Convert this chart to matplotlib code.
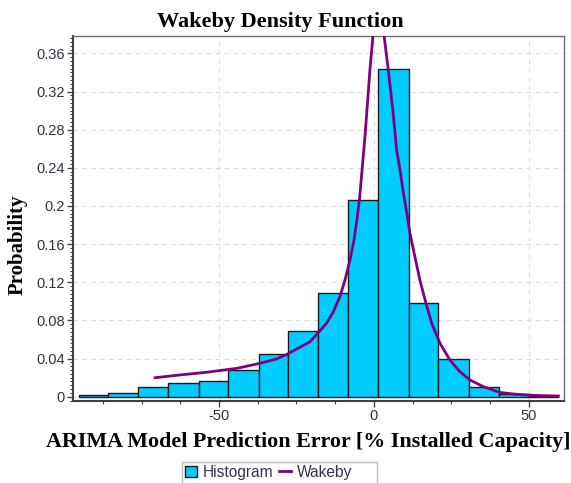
import matplotlib
matplotlib.use("Agg")
import matplotlib.pyplot as plt
from matplotlib.ticker import MultipleLocator, FuncFormatter
from matplotlib.patches import Rectangle
import numpy as np

plt.rcParams["axes.unicode_minus"] = False

# ---- data ----
bin_edges = [-95.2, -85.7, -76.0, -66.4, -56.5, -47.0, -37.0, -27.6, -18.0,
             -8.3, 1.4, 11.3, 20.7, 30.6, 40.3, 50.0, 59.5]
hist_prob = [0.0017, 0.0042, 0.0105, 0.014, 0.0168, 0.028, 0.0447, 0.0689,
             0.109, 0.206, 0.344, 0.098, 0.0395, 0.0105, 0.0028, 0.001]

wak_x = [-70.6, -62.6, -54.0, -44.3, -36.8, -31.5, -28.2, -23.9, -20.6, -18.0,
         -15.3, -13.1, -11.0, -9.35, -7.74, -6.45, -5.37, -4.6, -2.9, -1.3, 0.0,
         1.6, 3.2, 4.6, 6.2, 7.3, 8.4, 9.5, 10.6, 11.6, 13.2, 14.8, 16.5, 18.6,
         21.3, 24.5, 27.7, 31.0, 35.3, 40.6, 45.0, 49.3, 54.0, 59.5]
wak_y = [0.0199, 0.0228, 0.0256, 0.0297, 0.035, 0.0395, 0.0442, 0.0518, 0.0577,
         0.0671, 0.077, 0.0891, 0.1049, 0.1224, 0.1433, 0.1643, 0.1887, 0.2097,
         0.273, 0.343, 0.39, 0.42, 0.38, 0.343, 0.297, 0.2587, 0.2377, 0.2133,
         0.1923, 0.1713, 0.1468, 0.1224, 0.1014, 0.077, 0.056, 0.0385, 0.0262,
         0.0175, 0.0105, 0.0045, 0.0028, 0.0018, 0.0011, 0.0007]

x_ticks = [-50, 0, 50]
y_ticks = [0, 0.04, 0.08, 0.12, 0.16, 0.2, 0.24, 0.28, 0.32, 0.36]

title = "Wakeby Density Function"
xlabel = "ARIMA Model Prediction Error [% Installed Capacity]"
ylabel = "Probability"

# ---- figure ----
W, H = 571, 483
fig = plt.figure(figsize=(W / 100, H / 100), dpi=100)
ax = fig.add_axes([73 / W, 1 - 400.7 / H, (564 - 73) / W, (400.7 - 36) / H])

edges = np.array(bin_edges)
widths = np.diff(edges)
bars = ax.bar(edges[:-1], hist_prob, width=widths, align="edge", color="#00CCFF",
              edgecolor="#1a1a1a", linewidth=1.0, zorder=2, label="Histogram")
line, = ax.plot(wak_x, wak_y, color="#800080", linewidth=2.0, zorder=3,
                label="Wakeby", solid_joinstyle="round")

ax.set_xlim(-97.1, 61.3)
ax.set_ylim(-0.0042, 0.3782)
ax.set_xticks(x_ticks)
ax.set_yticks(y_ticks)
ax.xaxis.set_minor_locator(MultipleLocator(12.5))
ax.yaxis.set_minor_locator(MultipleLocator(0.004))
ax.yaxis.set_major_formatter(FuncFormatter(lambda v, p: "%g" % round(v, 4)))
ax.xaxis.set_major_formatter(FuncFormatter(lambda v, p: "%g" % round(v, 4)))

tick_color = "#333340"
for lab in ax.get_xticklabels() + ax.get_yticklabels():
    lab.set_fontfamily("Liberation Sans")
    lab.set_fontsize(10.5)
    lab.set_color(tick_color)
ax.tick_params(which="major", direction="out", length=4, width=1.0,
               color="#444444", pad=2)
ax.tick_params(which="minor", direction="out", length=2, width=0.8,
               color="#444444")

ax.grid(True, which="major", color="#dcdcdc", linestyle=(0, (4, 4)),
        linewidth=0.8, zorder=0)
ax.set_axisbelow(True)

for s in ["left", "bottom"]:
    ax.spines[s].set_color("#404040")
    ax.spines[s].set_linewidth(1.5)
for s in ["top", "right"]:
    ax.spines[s].set_color("#707070")
    ax.spines[s].set_linewidth(1.0)

serif = ["Liberation Serif", "DejaVu Serif"]
fig.text(280 / W, 1 - 27.3 / H, title, ha="center", va="baseline",
         fontsize=16, fontweight="bold", family=serif)
fig.text(308 / W, 1 - 446.7 / H, xlabel, ha="center", va="baseline",
         fontsize=15.8, fontweight="bold", family=serif)
fig.text(18 / W, 1 - 245 / H, ylabel, ha="center", va="center",
         rotation=90, fontsize=15, fontweight="bold", family=serif)

# legend (frame drawn separately: it runs past the bottom of the image)
leg = fig.legend([bars, line], ["Histogram", "Wakeby"], loc="center left",
                 bbox_to_anchor=(185 / W, 1 - 472.3 / H),
                 ncol=2, frameon=False, borderaxespad=0, borderpad=0,
                 handlelength=0.77, handleheight=0.77,
                 handletextpad=0.38, columnspacing=0.38,
                 prop={"family": "Liberation Sans", "size": 11.2})
for t in leg.get_texts():
    t.set_color("#333355")
frame = Rectangle((181.7 / W, -0.02), (377.3 - 181.7) / W,
                  (483 - 461.7) / H + 0.02, transform=fig.transFigure,
                  facecolor="none", edgecolor="#c0c0c0", linewidth=1.0)
fig.patches.append(frame)

fig.savefig("out.png", dpi=100)
